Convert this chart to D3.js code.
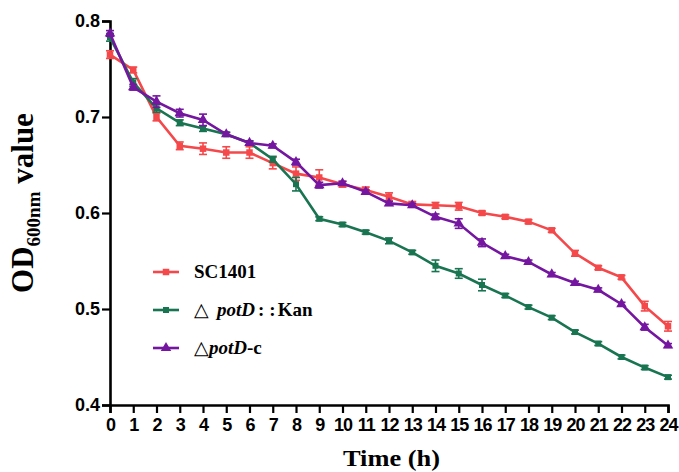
<!DOCTYPE html>
<html>
<head>
<meta charset="utf-8">
<script src="https://cdn.jsdelivr.net/npm/d3@7"></script>
<style>
  body { margin: 0; background: #fff; }
  svg { display: block; }
</style>
</head>
<body>
<div id="chart"></div>
<script>
const hours = d3.range(0, 25);
const yTicks = [0.4, 0.5, 0.6, 0.7, 0.8];

const sc1401 = [0.765, 0.749, 0.700, 0.670, 0.667, 0.663, 0.663, 0.652, 0.641, 0.637, 0.630, 0.624, 0.617, 0.609, 0.608, 0.607, 0.600, 0.596, 0.591, 0.582, 0.558, 0.543, 0.533, 0.503, 0.482];
const sc1401Err = [0.004, 0.003, 0.004, 0.004, 0.006, 0.006, 0.006, 0.006, 0.007, 0.008, 0.003, 0.003, 0.004, 0.003, 0.003, 0.004, 0.002, 0.002, 0.002, 0.002, 0.003, 0.002, 0.002, 0.005, 0.005];

const potDKan = [0.783, 0.736, 0.709, 0.694, 0.688, 0.682, 0.673, 0.656, 0.630, 0.594, 0.588, 0.580, 0.571, 0.559, 0.545, 0.537, 0.525, 0.514, 0.502, 0.491, 0.476, 0.464, 0.450, 0.439, 0.429];
const potDKanErr = [0.004, 0.004, 0.004, 0.003, 0.003, 0.002, 0.002, 0.003, 0.007, 0.002, 0.002, 0.002, 0.003, 0.002, 0.006, 0.005, 0.006, 0.002, 0.002, 0.002, 0.002, 0.002, 0.002, 0.002, 0.002];

const potDc = [0.787, 0.731, 0.716, 0.704, 0.697, 0.682, 0.673, 0.670, 0.653, 0.629, 0.631, 0.622, 0.610, 0.608, 0.596, 0.589, 0.569, 0.555, 0.549, 0.536, 0.527, 0.520, 0.505, 0.481, 0.462];
const potDcErr = [0.003, 0.003, 0.006, 0.004, 0.006, 0.002, 0.002, 0.002, 0.003, 0.003, 0.002, 0.002, 0.002, 0.002, 0.003, 0.005, 0.004, 0.002, 0.002, 0.002, 0.002, 0.002, 0.002, 0.003, 0.002];

const width = 679, height = 472;
const margin = {top: 21, right: 11, bottom: 67, left: 110};

const x = d3.scaleLinear().domain([0, 24]).range([margin.left, width - margin.right]);
const y = d3.scaleLinear().domain([0.4, 0.8]).range([height - margin.bottom, margin.top]);

const series = [
  {name: "SC1401", values: sc1401, err: sc1401Err, color: "#f4484b", symbol: d3.symbolSquare, size: 42},
  {name: "Kan", values: potDKan, err: potDKanErr, color: "#187451", symbol: d3.symbolSquare, size: 36},
  {name: "c", values: potDc, err: potDcErr, color: "#7416a0", symbol: d3.symbolTriangle, size: 48}
];

const svg = d3.select("#chart").append("svg")
    .attr("width", width)
    .attr("height", height);

// axes
const xAxis = svg.append("g")
    .attr("transform", `translate(0,${y(0.4)})`)
    .call(d3.axisBottom(x).tickValues(hours).tickSize(8).tickPadding(5).tickFormat(d3.format("d")));

const yAxis = svg.append("g")
    .attr("transform", `translate(${margin.left},0)`)
    .call(d3.axisLeft(y).tickValues(yTicks).tickSize(8).tickPadding(2).tickFormat(d3.format(".1f")));

[xAxis, yAxis].forEach(g => {
  g.select(".domain").attr("stroke", "#000").attr("stroke-width", 2.6);
  g.selectAll(".tick line").attr("stroke", "#000").attr("stroke-width", 2.2);
  g.selectAll(".tick text")
      .attr("fill", "#000")
      .style("font", "bold 18px 'Liberation Sans', Arial, sans-serif");
});
xAxis.selectAll(".tick text").attr("letter-spacing", "-1px");

// lines, error bars, markers
const line = d3.line().x((d, i) => x(hours[i])).y(d => y(d));

series.forEach(s => {
  const g = svg.append("g");
  g.append("path")
      .datum(s.values)
      .attr("fill", "none")
      .attr("stroke", s.color)
      .attr("stroke-width", 2.6)
      .attr("d", line);

  const bars = g.selectAll(".err").data(s.values).join("g").attr("stroke", s.color).attr("stroke-width", 1.6);
  bars.append("line")
      .attr("x1", (d, i) => x(hours[i])).attr("x2", (d, i) => x(hours[i]))
      .attr("y1", (d, i) => y(d + s.err[i])).attr("y2", (d, i) => y(d - s.err[i]));
  bars.append("line")
      .attr("x1", (d, i) => x(hours[i]) - 4).attr("x2", (d, i) => x(hours[i]) + 4)
      .attr("y1", (d, i) => y(d + s.err[i])).attr("y2", (d, i) => y(d + s.err[i]));
  bars.append("line")
      .attr("x1", (d, i) => x(hours[i]) - 4).attr("x2", (d, i) => x(hours[i]) + 4)
      .attr("y1", (d, i) => y(d - s.err[i])).attr("y2", (d, i) => y(d - s.err[i]));

  g.selectAll(".pt").data(s.values).join("path")
      .attr("transform", (d, i) => `translate(${x(hours[i])},${y(d)})`)
      .attr("fill", s.color)
      .attr("d", d3.symbol().type(s.symbol).size(s.size));
});

// axis titles
svg.append("text")
    .attr("x", 343)
    .attr("y", 466)
    .attr("textLength", 97)
    .attr("lengthAdjust", "spacingAndGlyphs")
    .style("font", "bold 23px 'Liberation Serif', 'Times New Roman', serif")
    .text("Time (h)");

const yTitle = svg.append("text")
    .attr("transform", "translate(33,203) rotate(-90)")
    .attr("text-anchor", "middle")
    .style("font", "bold 31px 'Liberation Serif', 'Times New Roman', serif");
yTitle.append("tspan").text("OD");
yTitle.append("tspan").attr("dy", 7).style("font-size", "19px").text("600nm");
yTitle.append("tspan").attr("dy", -7).text(" value");

// legend
const legend = svg.append("g").attr("transform", "translate(153,272)");
series.forEach((s, i) => {
  const row = legend.append("g").attr("transform", `translate(0,${i * 38})`);
  row.append("line").attr("x1", 0).attr("x2", 26).attr("stroke", s.color).attr("stroke-width", 2.6);
  row.append("path").attr("transform", "translate(13,0)").attr("fill", s.color)
      .attr("d", d3.symbol().type(s.symbol).size(s.size)());
  const t = row.append("text")
      .attr("x", 41).attr("y", 6)
      .style("font", "bold 19px 'Liberation Serif', 'Times New Roman', serif");
  if (s.name === "SC1401") {
    t.text("SC1401");
  } else if (s.name === "Kan") {
    t.append("tspan").style("font-weight", "normal").text("\u25B3");
    t.append("tspan").attr("dx", 8).style("font-style", "italic").text("potD");
    t.append("tspan").attr("dx", 3).text(":");
    t.append("tspan").attr("dx", 5).text(":");
    t.append("tspan").attr("dx", 2).text("Kan");
  } else {
    t.append("tspan").style("font-weight", "normal").text("\u25B3");
    t.append("tspan").style("font-style", "italic").text("potD");
    t.append("tspan").text("-c");
  }
});
</script>
</body>
</html>
